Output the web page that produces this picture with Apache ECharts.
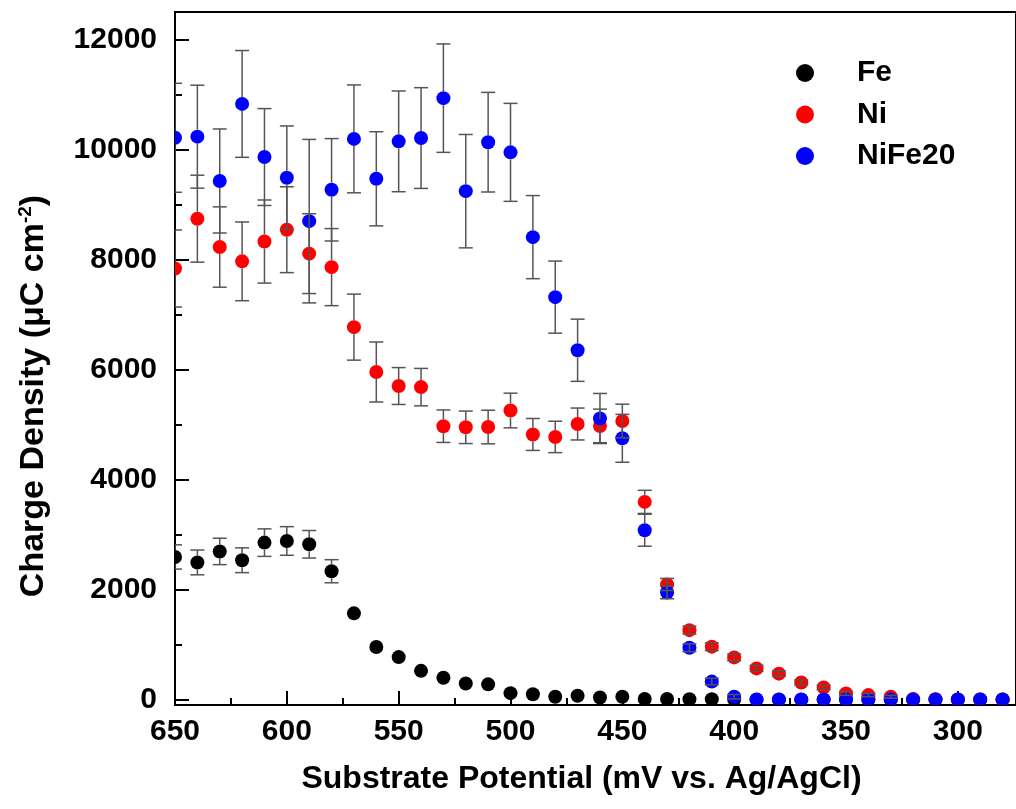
<!DOCTYPE html>
<html>
<head>
	<meta charset="utf-8" />
	<title>Charge Density vs Substrate Potential</title>
	<script src="https://cdn.jsdelivr.net/npm/echarts@6/dist/echarts.min.js"></script>
	<style>
		html, body { margin: 0; padding: 0; background: #fff; }
	</style>
</head>
<body>
	<!-- chart container -->
	<div id="main" style="width: 1016px;height: 809px;"></div>
	<script type="text/javascript">

		// substrate potential (mV vs Ag/AgCl)
		var potential = [650, 640, 630, 620, 610, 600, 590, 580, 570, 560, 550, 540, 530, 520, 510, 500, 490, 480, 470, 460,
			450, 440, 430, 420, 410, 400, 390, 380, 370, 360, 350, 340, 330, 320, 310, 300, 290, 280];

		// charge density (uC cm-2) and error (0 = no visible bar)
		var fe = [2600, 2500, 2700, 2540, 2860, 2890, 2830, 2340, 1575, 965, 780, 530, 405, 300, 285, 125, 105, 60, 78, 45,
			60, 18, 18, 15, 15, 8, 5, 5, 5, 5, 5, 5, 5, 5, 5, 5, 5, 5];
		var feErr = [220, 225, 240, 225, 250, 260, 250, 210, 0, 0, 0, 0, 0, 0, 0, 0, 0, 0, 0, 0,
			0, 0, 0, 0, 0, 0, 0, 0, 0, 0, 0, 0, 0, 0, 0, 0, 0, 0];

		var ni = [7840, 8745, 8230, 7970, 8330, 8545, 8110, 7865, 6775, 5960, 5705, 5685, 4975, 4955, 4960, 5260, 4825, 4780, 5015, 4980,
			5070, 3600, 2100, 1270, 970, 775, 575, 480, 320, 230, 120, 90, 60, 20, 15, 10, 10, 10];
		var niErr = [700, 790, 730, 715, 755, 780, 725, 700, 600, 545, 335, 340, 295, 295, 305, 315, 290, 285, 290, 305,
			305, 210, 110, 70, 70, 60, 55, 50, 45, 40, 35, 30, 25, 0, 0, 0, 0, 0];

		var nife = [10215, 10235, 9430, 10830, 9865, 9490, 8700, 9270, 10195, 9470, 10150, 10210, 10935, 9245, 10135, 9950, 8410, 7320, 6355, 5115,
			4755, 3085, 1955, 950, 335, 60, 12, 12, 12, 12, 12, 12, 12, 12, 12, 12, 12, 12];
		var nifeErr = [990, 935, 945, 970, 880, 940, 1485, 930, 980, 855, 915, 915, 985, 1030, 905, 890, 755, 655, 565, 455,
			435, 290, 115, 70, 60, 40, 0, 0, 0, 0, 0, 0, 0, 0, 0, 0, 0, 0];

		// tick values
		var xMajor = [650, 600, 550, 500, 450, 400, 350, 300];
		var xMinor = [625, 575, 525, 475, 425, 375, 325];
		var yMajor = [0, 2000, 4000, 6000, 8000, 10000, 12000];
		var yMinor = [1000, 3000, 5000, 7000, 9000, 11000];

		var FONT = "'Liberation Sans', Arial, sans-serif";
		var R = 7; // marker radius

		function pts(vals) {
			return potential.map(function (p, i) { return [p, vals[i]]; });
		}
		function errPts(vals, errs) {
			return potential.map(function (p, i) { return [p, vals[i], errs[i]]; });
		}

		// markers as custom circles so they get clipped at the frame like the original
		function renderDot(params, api) {
			var c = api.coord([api.value(0), api.value(1)]);
			return { type: 'circle', shape: { cx: c[0], cy: c[1], r: R }, style: { fill: api.visual('color') } };
		}

		// error bar drawn like Origin: stems start at the symbol edge
		function renderErr(params, api) {
			var x = api.value(0), y = api.value(1), e = api.value(2);
			if (!(e > 0)) return null;
			var c = api.coord([x, y]);
			var t = api.coord([x, y + e]);
			var b = api.coord([x, y - e]);
			var cap = 7;
			var st = { stroke: '#555', lineWidth: 1.5 };
			var kids = [];
			if (c[1] - t[1] > R) {
				kids.push({ type: 'line', shape: { x1: c[0], y1: t[1], x2: c[0], y2: c[1] - R }, style: st });
				kids.push({ type: 'line', shape: { x1: c[0], y1: c[1] + R, x2: c[0], y2: b[1] }, style: st });
			} else {
				kids.push({ type: 'line', shape: { x1: c[0], y1: t[1], x2: c[0], y2: b[1] }, style: st });
			}
			kids.push({ type: 'line', shape: { x1: c[0] - cap, y1: t[1], x2: c[0] + cap, y2: t[1] }, style: st });
			kids.push({ type: 'line', shape: { x1: c[0] - cap, y1: b[1], x2: c[0] + cap, y2: b[1] }, style: st });
			return { type: 'group', children: kids };
		}

		var myChart = echarts.init(document.getElementById("main"));

		var plainNum = function (v) { return String(v); };

		var option = {
			animation: false,
			backgroundColor: '#fff',
			textStyle: { fontFamily: FONT },
			grid: {
				left: 175, right: 0, top: 12, bottom: 104,
				show: true, borderColor: '#000', borderWidth: 2,
				outerBoundsMode: 'none'
			},
			legend: {
				data: ['Fe', 'Ni', 'NiFe20'],
				orient: 'vertical',
				left: 791, top: 53,
				itemWidth: 18, itemHeight: 18, itemGap: 11.5,
				icon: 'circle',
				textStyle: {
					fontFamily: FONT, fontWeight: 'bold', fontSize: 30, color: '#000',
					lineHeight: 30, padding: [0, 0, 0, 38]
				}
			},
			xAxis: [
				{
					type: 'value', position: 'bottom',
					min: 274, max: 650, inverse: true,
					splitLine: { show: false },
					axisLine: { onZero: false, lineStyle: { color: '#000', width: 2 } },
					name: 'Substrate Potential (mV vs. Ag/AgCl)',
					nameLocation: 'middle', nameGap: 58,
					nameTextStyle: { fontFamily: FONT, fontWeight: 'bold', fontSize: 32, color: '#000', padding: [0, 28, 0, 0] },
					axisTick: { inside: true, length: 14, customValues: xMajor, lineStyle: { color: '#000', width: 2 } },
					axisLabel: { customValues: xMajor, formatter: plainNum, margin: 12, fontFamily: FONT, fontWeight: 'bold', fontSize: 30, color: '#000' }
				},
				{
					type: 'value', position: 'bottom',
					min: 274, max: 650, inverse: true,
					splitLine: { show: false },
					axisLine: { show: false, onZero: false },
					axisTick: { inside: true, length: 7, customValues: xMinor, lineStyle: { color: '#000', width: 2 } },
					axisLabel: { show: false }
				}
			],
			yAxis: [
				{
					type: 'value', position: 'left',
					min: -90, max: 12500,
					splitLine: { show: false },
					axisLine: { onZero: false, lineStyle: { color: '#000', width: 2 } },
					name: 'Charge Density (\u03bcC cm{sup|-2})',
					nameLocation: 'middle', nameGap: 123, nameRotate: 90,
					nameTextStyle: {
						fontFamily: FONT, fontWeight: 'bold', fontSize: 34, color: '#000', padding: [0, 75, 0, 0],
						rich: { sup: { fontFamily: FONT, fontWeight: 'bold', fontSize: 19, color: '#000', padding: [0, 0, 17, 0] } }
					},
					axisTick: { inside: true, length: 14, customValues: yMajor, lineStyle: { color: '#000', width: 2 } },
					axisLabel: { customValues: yMajor, formatter: plainNum, margin: 18, fontFamily: FONT, fontWeight: 'bold', fontSize: 30, color: '#000' }
				},
				{
					type: 'value', position: 'left',
					min: -90, max: 12500,
					splitLine: { show: false },
					axisLine: { show: false, onZero: false },
					axisTick: { inside: true, length: 7, customValues: yMinor, lineStyle: { color: '#000', width: 2 } },
					axisLabel: { show: false }
				}
			],
			series: [
				{ name: 'Fe', type: 'custom', renderItem: renderDot, itemStyle: { color: '#000' }, data: pts(fe), z: 2, clip: true },
				{ name: 'Ni', type: 'custom', renderItem: renderDot, itemStyle: { color: '#ff0000' }, data: pts(ni), z: 2, clip: true },
				{ name: 'NiFe20', type: 'custom', renderItem: renderDot, itemStyle: { color: '#0000ff' }, data: pts(nife), z: 2, clip: true },
				{ type: 'custom', renderItem: renderErr, data: errPts(fe, feErr), z: 3, clip: true, silent: true },
				{ type: 'custom', renderItem: renderErr, data: errPts(ni, niErr), z: 3, clip: true, silent: true },
				{ type: 'custom', renderItem: renderErr, data: errPts(nife, nifeErr), z: 3, clip: true, silent: true }
			]
		};

		myChart.setOption(option);

	</script>
</body>
</html>
